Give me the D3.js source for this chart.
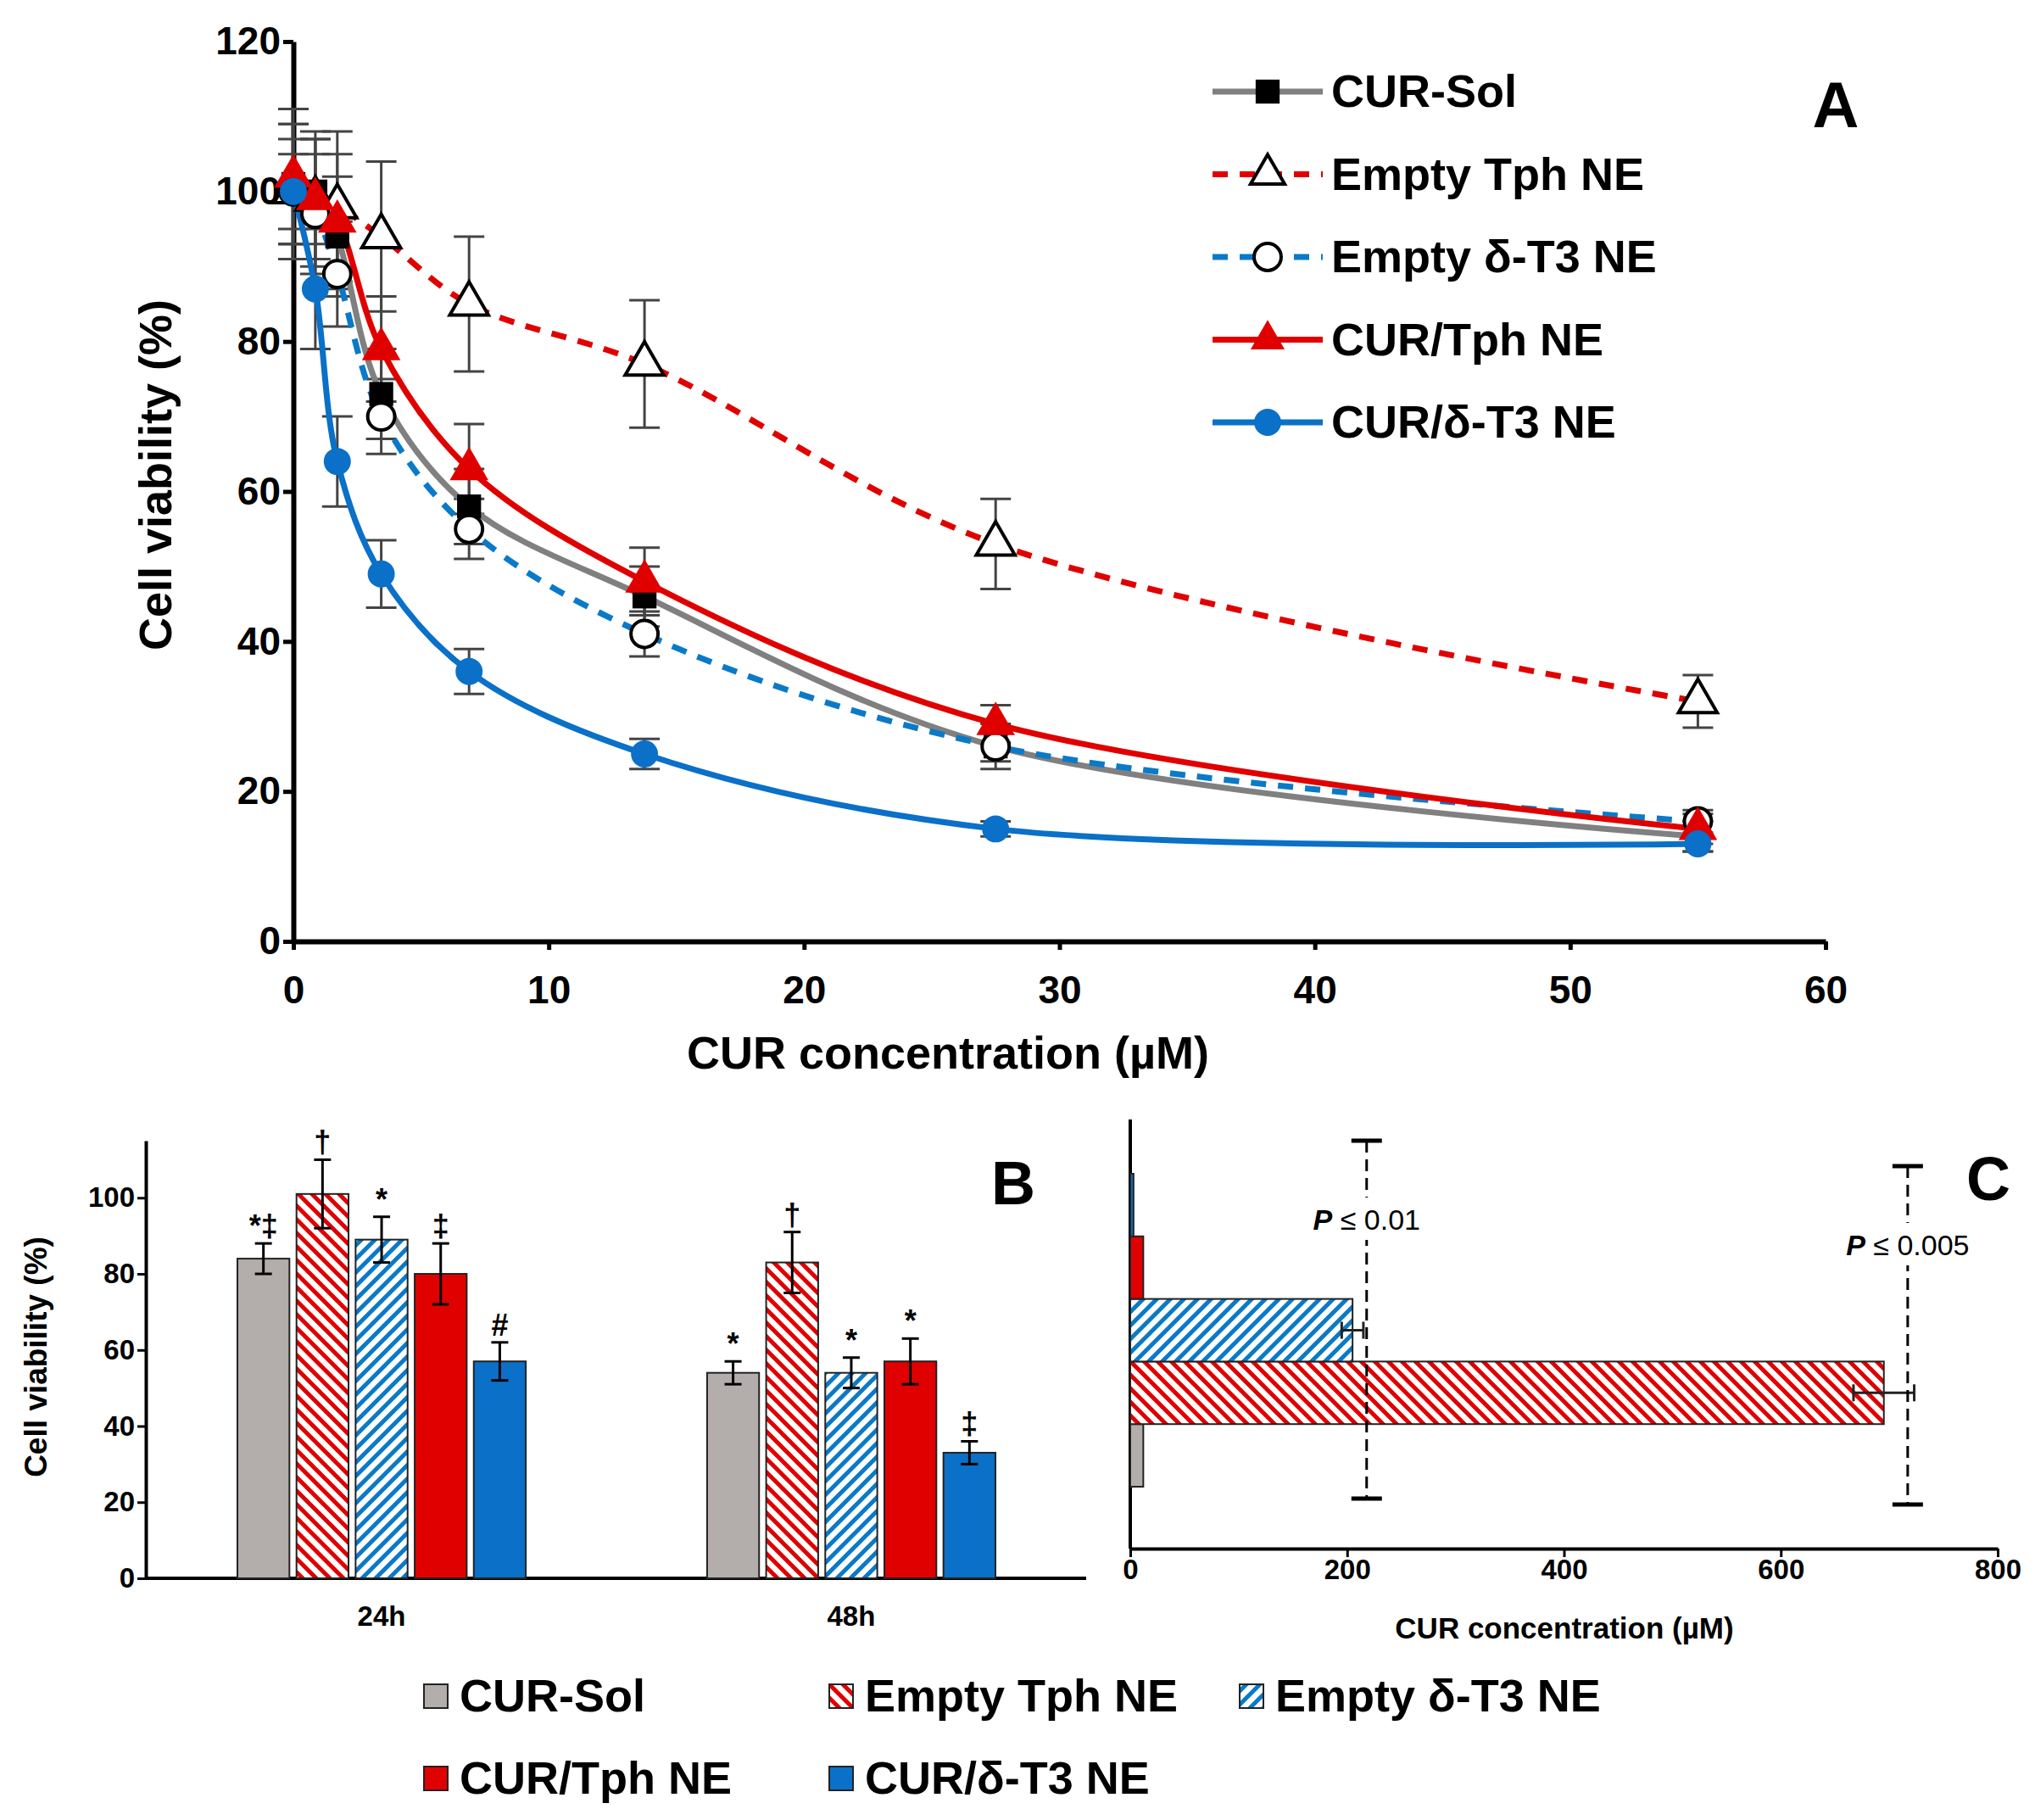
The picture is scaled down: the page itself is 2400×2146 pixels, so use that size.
<!DOCTYPE html>
<html><head><meta charset="utf-8">
<script src="https://cdn.jsdelivr.net/npm/d3@7"></script>
<style>body{margin:0;background:#fff}text{font-family:"Liberation Sans",Arial,sans-serif;font-weight:bold}</style>
</head><body>
<script>
// panel A data
var conc = [0, 0.86, 1.72, 3.44, 6.88, 13.75, 27.5, 55];
var curSol = [101, 100, 94, 73, 58, 46, 26, 14];
var curSolErr = [8, 7, 8, 6, 5, 4, 3, 2];
var emptyTph = [100, 99, 98, 94, 85, 77, 53, 32];
var emptyTphErr = [9, 9, 10, 10, 9, 8.5, 6, 3.5];
var emptyT3 = [100, 97, 89, 70, 55, 41, 26, 16];
var emptyT3Err = [7, 8, 7, 5, 4, 3, 2, 1.5];
var curTph = [102, 99, 96, 79, 63, 48, 29, 15];
var curTphErr = [9, 8, 9, 7, 6, 4.5, 2.5, 2];
var curT3 = [100, 87, 64, 49, 36, 25, 15, 13];
var curT3Err = [5, 8, 6, 4.5, 3, 2, 1, 1];
var seriesNames = ["CUR-Sol", "Empty Tph NE", "Empty δ-T3 NE", "CUR/Tph NE", "CUR/δ-T3 NE"];
var xTicksA = [0, 10, 20, 30, 40, 50, 60];
var yTicksA = [0, 20, 40, 60, 80, 100, 120];
// panel B data
var times = ["24h", "48h"];
var b24 = [84, 101, 89, 80, 57];
var b24Err = [4, 9, 6, 8, 5];
var b24Mark = ["*‡", "†", "*", "‡", "#"];
var b48 = [54, 83, 54, 57, 33];
var b48Err = [3, 8, 4, 6, 3];
var b48Mark = ["*", "†", "*", "*", "‡"];
var yTicksB = [0, 20, 40, 60, 80, 100];
// panel C data (IC50, µM)
var ic50 = [12, 695, 205, 12, 3];
var ic50Err = [0, 28, 10, 0, 0];
var xTicksC = [0, 200, 400, 600, 800];

var svg = d3.select("body").append("svg").attr("width", 2400).attr("height", 2146);
var defs = svg.append("defs");
function hatch(id, color, dir) {
  var p = defs.append("pattern").attr("id", id).attr("patternUnits", "userSpaceOnUse")
    .attr("width", 16).attr("height", 16);
  p.append("rect").attr("width", 16).attr("height", 16).attr("fill", "#fff");
  var d = dir > 0 ? "M-4,20 L20,-4 M-4,4 L4,-4 M12,20 L20,12" : "M-4,-4 L20,20 M-4,12 L4,20 M12,-4 L20,4";
  p.append("path").attr("d", d).attr("stroke", color).attr("stroke-width", 5);
}
hatch("hr", "#e00000", -1);
hatch("hb", "#0a7ac8", 1);
var fills = ["#b3adab", "url(#hr)", "url(#hb)", "#e00000", "#0a70c8"];

// ---------- panel A ----------
var xA = d3.scaleLinear().domain([0, 60]).range([346, 2153]);
var yA = d3.scaleLinear().domain([0, 120]).range([1110, 49]);
var gA = svg.append("g");
var axX = gA.append("g").attr("transform", "translate(0,1110)")
  .call(d3.axisBottom(xA).tickValues(xTicksA).tickSize(10).tickSizeOuter(0));
var axY = gA.append("g").attr("transform", "translate(346,0)")
  .call(d3.axisLeft(yA).tickValues(yTicksA).tickSize(12).tickSizeOuter(0));
[axX, axY].forEach(function(a) {
  a.select(".domain").attr("stroke-width", 6);
  a.selectAll(".tick line").attr("stroke-width", 5);
  a.selectAll("text").attr("font-size", 46).attr("fill", "#000");
});
axX.selectAll("text").attr("dy", "1.3em");
gA.append("text").attr("x", 1118).attr("y", 1260).attr("text-anchor", "middle")
  .attr("font-size", 54).text("CUR concentration (µM)");
gA.append("text").attr("transform", "translate(202,560) rotate(-90)").attr("text-anchor", "middle")
  .attr("font-size", 54).text("Cell viability (%)");
gA.append("text").attr("x", 2165).attr("y", 150).attr("text-anchor", "middle").attr("font-size", 76).text("A");

var dataA = [
  {v: curSol, e: curSolErr, c: "#808080", dash: null, m: "square", f: "#000"},
  {v: emptyTph, e: emptyTphErr, c: "#e00000", dash: "18,14", m: "triangle", f: "#fff"},
  {v: emptyT3, e: emptyT3Err, c: "#0a7ac8", dash: "18,14", m: "circle", f: "#fff"},
  {v: curTph, e: curTphErr, c: "#e00000", dash: null, m: "triangle", f: "#e00000"},
  {v: curT3, e: curT3Err, c: "#0a70c8", dash: null, m: "circle", f: "#0a70c8"}
];
var line = d3.line().x(function(d) { return xA(d[0]); }).y(function(d) { return yA(d[1]); })
  .curve(d3.curveCatmullRom.alpha(0.5));
function symbolFor(m) {
  return m === "square" ? d3.symbolSquare : m === "triangle" ? d3.symbolTriangle : d3.symbolCircle;
}
// error bars
dataA.forEach(function(s) {
  conc.forEach(function(x, i) {
    var g = gA.append("g").attr("stroke", "#444").attr("stroke-width", 3);
    g.append("line").attr("x1", xA(x)).attr("x2", xA(x)).attr("y1", yA(s.v[i] - s.e[i])).attr("y2", yA(s.v[i] + s.e[i]));
    [s.v[i] - s.e[i], s.v[i] + s.e[i]].forEach(function(v) {
      g.append("line").attr("x1", xA(x) - 18).attr("x2", xA(x) + 18).attr("y1", yA(v)).attr("y2", yA(v));
    });
  });
});
dataA.forEach(function(s) {
  gA.append("path").datum(conc.map(function(x, i) { return [x, s.v[i]]; }))
    .attr("d", line).attr("fill", "none").attr("stroke", s.c).attr("stroke-width", 7)
    .attr("stroke-dasharray", s.dash);
});
dataA.forEach(function(s) {
  var sym = d3.symbol().type(symbolFor(s.m)).size(s.m === "triangle" ? 900 : 800);
  gA.selectAll(null).data(conc).enter().append("path")
    .attr("transform", function(x, i) { return "translate(" + xA(x) + "," + yA(s.v[i]) + ")"; })
    .attr("d", sym).attr("fill", s.f)
    .attr("stroke", s.f === "#fff" ? "#000" : "none").attr("stroke-width", 4);
});
// legend A
seriesNames.forEach(function(n, i) {
  var s = dataA[i], y = 108 + i * 97.5;
  gA.append("line").attr("x1", 1430).attr("x2", 1560).attr("y1", y).attr("y2", y)
    .attr("stroke", s.c).attr("stroke-width", 7).attr("stroke-dasharray", s.dash);
  gA.append("path").attr("transform", "translate(1495," + y + ")")
    .attr("d", d3.symbol().type(symbolFor(s.m)).size(s.m === "triangle" ? 700 : 800)())
    .attr("fill", s.f).attr("stroke", s.f === "#fff" ? "#000" : "none").attr("stroke-width", 4);
  gA.append("text").attr("x", 1570).attr("y", y + 18).attr("font-size", 54).text(n);
});

// ---------- panel B ----------
var x0 = d3.scaleBand().domain(times).range([280, 1174]).paddingInner(0.386).paddingOuter(0);
var x1 = d3.scaleBand().domain(d3.range(5)).range([0, x0.bandwidth()]).paddingInner(0.12);
var yB = d3.scaleLinear().domain([0, 115]).range([1861, 1345]);
var gB = svg.append("g");
var bx = gB.append("g").attr("transform", "translate(0,1861)").call(d3.axisBottom(x0).tickSize(0));
bx.select(".domain").remove();
gB.append("line").attr("x1", 172).attr("x2", 1281).attr("y1", 1861).attr("y2", 1861).attr("stroke", "#000").attr("stroke-width", 4);
var by = gB.append("g").attr("transform", "translate(172,0)")
  .call(d3.axisLeft(yB).tickValues(yTicksB).tickSize(10).tickSizeOuter(0));
[bx, by].forEach(function(a) {
  a.select(".domain").attr("stroke-width", 4);
  a.selectAll(".tick line").attr("stroke-width", 3);
  a.selectAll("text").attr("font-size", 33).attr("fill", "#000");
});
bx.selectAll("text").attr("dy", "1.6em");
gB.append("text").attr("transform", "translate(55,1600) rotate(-90)").attr("text-anchor", "middle")
  .attr("font-size", 37).text("Cell viability (%)");
gB.append("text").attr("x", 1195).attr("y", 1420).attr("text-anchor", "middle").attr("font-size", 72).text("B");
[[b24, b24Err, b24Mark], [b48, b48Err, b48Mark]].forEach(function(grp, gi) {
  grp[0].forEach(function(v, i) {
    var x = x0(times[gi]) + x1(i), w = x1.bandwidth(), cx = x + w / 2;
    gB.append("rect").attr("x", x).attr("y", yB(v)).attr("width", w).attr("height", yB(0) - yB(v))
      .attr("fill", fills[i]).attr("stroke", "#222").attr("stroke-width", 2);
    var e = grp[1][i];
    var g = gB.append("g").attr("stroke", "#000").attr("stroke-width", 3);
    g.append("line").attr("x1", cx).attr("x2", cx).attr("y1", yB(v - e)).attr("y2", yB(v + e));
    [v - e, v + e].forEach(function(t) {
      g.append("line").attr("x1", cx - 10).attr("x2", cx + 10).attr("y1", yB(t)).attr("y2", yB(t));
    });
    gB.append("text").attr("x", cx).attr("y", yB(v + e) - 8).attr("text-anchor", "middle")
      .attr("font-size", 36).text(grp[2][i]);
  });
});

// ---------- panel C ----------
var xC = d3.scaleLinear().domain([0, 800]).range([1333, 2356]);
var yC = d3.scaleBand().domain(d3.range(5)).range([1753, 1384]);
var gC = svg.append("g");
var cx = gC.append("g").attr("transform", "translate(0,1826)")
  .call(d3.axisBottom(xC).tickValues(xTicksC).tickSize(10).tickSizeOuter(0));
gC.append("line").attr("x1", 1333).attr("x2", 1333).attr("y1", 1320).attr("y2", 1826).attr("stroke", "#000").attr("stroke-width", 4);
cx.select(".domain").attr("stroke-width", 4);
cx.selectAll(".tick line").attr("stroke-width", 3);
cx.selectAll("text").attr("font-size", 33).attr("fill", "#000");
gC.append("text").attr("x", 1845).attr("y", 1932).attr("text-anchor", "middle").attr("font-size", 35).text("CUR concentration (µM)");
gC.append("text").attr("x", 2345).attr("y", 1415).attr("text-anchor", "middle").attr("font-size", 72).text("C");
ic50.forEach(function(v, i) {
  gC.append("rect").attr("x", xC(0)).attr("y", yC(i)).attr("width", xC(v) - xC(0)).attr("height", yC.bandwidth())
    .attr("fill", fills[i]).attr("stroke", "#222").attr("stroke-width", 2);
  var e = ic50Err[i];
  if (e > 0) {
    var yy = yC(i) + yC.bandwidth() / 2, g = gC.append("g").attr("stroke", "#222").attr("stroke-width", 3);
    g.append("line").attr("x1", xC(v - e)).attr("x2", xC(v + e)).attr("y1", yy).attr("y2", yy);
    [v - e, v + e].forEach(function(t) {
      g.append("line").attr("x1", xC(t)).attr("x2", xC(t)).attr("y1", yy - 10).attr("y2", yy + 10);
    });
  }
});
// significance brackets
[{x: 218, y1: 1345, y2: 1767, ty: 1450, t: "0.01"}, {x: 717, y1: 1375, y2: 1774, ty: 1480, t: "0.005"}].forEach(function(b) {
  var g = gC.append("g").attr("stroke", "#000").attr("stroke-width", 3);
  g.append("line").attr("x1", xC(b.x)).attr("x2", xC(b.x)).attr("y1", b.y1).attr("y2", b.y2).attr("stroke-dasharray", "14,8");
  [b.y1, b.y2].forEach(function(y) {
    g.append("line").attr("x1", xC(b.x) - 18).attr("x2", xC(b.x) + 18).attr("y1", y).attr("y2", y).attr("stroke-width", 5);
  });
  gC.append("rect").attr("x", xC(b.x) - 80).attr("y", b.ty - 38).attr("width", 160).attr("height", 50).attr("fill", "#fff");
  var t = gC.append("text").attr("x", xC(b.x)).attr("y", b.ty).attr("text-anchor", "middle").attr("font-size", 34);
  t.append("tspan").attr("font-style", "italic").text("P");
  t.append("tspan").attr("font-weight", "normal").text(" ≤ " + b.t);
});

// bottom legend
var legPos = [[500, 2000], [978, 2000], [1462, 2000], [500, 2097], [978, 2097]];
seriesNames.forEach(function(n, i) {
  var p = legPos[i];
  svg.append("rect").attr("x", p[0]).attr("y", p[1] - 14).attr("width", 28).attr("height", 28)
    .attr("fill", fills[i]).attr("stroke", "#222").attr("stroke-width", 2);
  svg.append("text").attr("x", p[0] + 42).attr("y", p[1] + 18).attr("font-size", 54).text(n);
});
</script>
</body></html>
